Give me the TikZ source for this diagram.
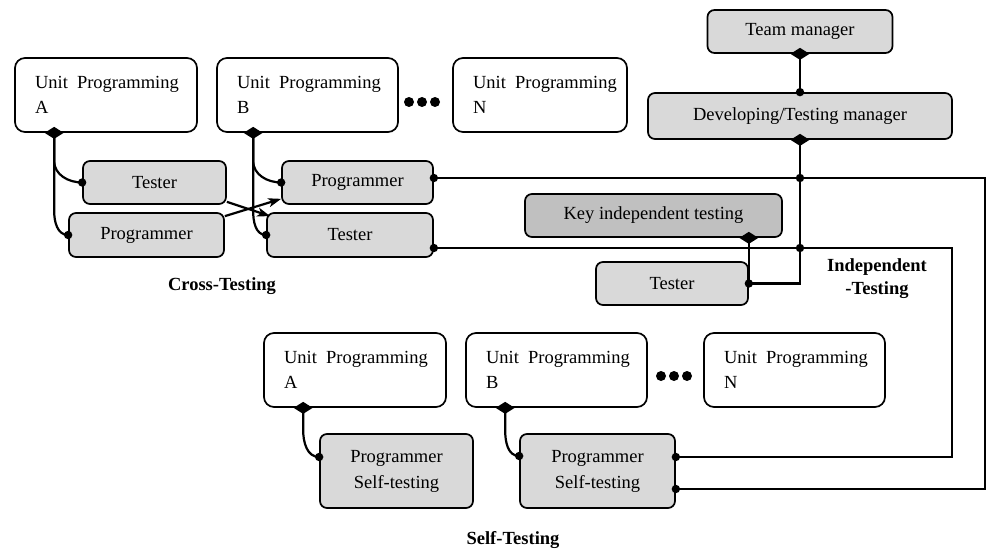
\documentclass[tikz,border=0pt]{standalone}
\usepackage{fontspec}
\setmainfont{Liberation Serif}
\usetikzlibrary{arrows.meta}
\definecolor{boxgray}{RGB}{217,217,217}
\definecolor{keygray}{RGB}{192,192,192}
\newcommand\bodyfont{\fontsize{18.5}{24.5}\selectfont}
\newcommand\uptext[1]{\hspace*{10pt}Unit\hspace{3pt} Programming\\\hspace*{10pt}#1}
\newcommand\dmd[1]{\fill #1 +(-9.5pt,0pt) -- +(0pt,6pt) -- +(9.5pt,0pt) -- +(0pt,-6pt) -- cycle;}
\newcommand\jdot[1]{\fill #1 circle (4.2pt);}
\begin{document}
\begin{tikzpicture}[x=1pt,y=-1pt,font=\bodyfont,
  unitbox/.style={draw,line width=1.7pt,rounded corners=10pt,fill=white,minimum height=74pt,inner xsep=10pt,inner ysep=0pt,align=left},
  graybox/.style={draw,line width=1.7pt,rounded corners=7pt,fill=boxgray,minimum height=43pt,inner sep=0pt},
  conn/.style={line width=2.2pt},
  lbl/.style={font=\fontsize{18.5}{23}\selectfont\bfseries,align=center}]
\fill[white] (0,0) rectangle (987,553);
\useasboundingbox (0,0) rectangle (987,553);

% unit boxes (top)
\node[unitbox,text width=162pt] (uA) at (106,95) {\uptext{A}};
\node[unitbox,text width=161pt] (uB) at (307.5,95) {\uptext{B}};
\node[unitbox,text width=154pt] (uN) at (540,95) {\uptext{N}};
% unit boxes (bottom)
\node[unitbox,text width=162pt] (sA) at (355,370) {\uptext{A}};
\node[unitbox,text width=161pt] (sB) at (556.5,370) {\uptext{B}};
\node[unitbox,text width=161pt] (sN) at (794.5,370) {\uptext{N}};

% gray boxes
\node[graybox,minimum width=185pt] (tm) at (800,31.5) {Team manager};
\node[graybox,minimum width=304pt,minimum height=46pt] (dtm) at (800,116) {Developing/Testing manager};
\node[graybox,minimum width=143pt] (tA) at (154.5,182.5) {Tester};
\node[graybox,minimum width=155pt,minimum height=44pt] (pA) at (146.5,235) {Programmer};
\node[graybox,minimum width=151pt] (pB) at (357.5,182.5) {Programmer};
\node[graybox,minimum width=166pt,minimum height=44pt] (tB) at (350,235) {Tester};
\node[graybox,fill=keygray,minimum width=257pt] (kit) at (653.5,215.5) {Key independent testing};
\node[graybox,minimum width=152pt] (ti) at (672,283.5) {Tester};
\node[graybox,minimum width=153pt,minimum height=74pt,align=center,font=\fontsize{18.5}{26}\selectfont] (psA) at (396.5,471) {Programmer\\Self-testing};
\node[graybox,minimum width=155pt,minimum height=74pt,align=center,font=\fontsize{18.5}{26}\selectfont] (psB) at (597.5,471) {Programmer\\Self-testing};

% labels
\node[lbl] (lcross) at (222,286) {Cross-Testing};
\node[lbl] (lind) at (877,279) {Independent\\-Testing};
\node[lbl] (lself) at (513,540) {Self-Testing};

% ellipses
\fill (409,102) circle (5pt) (422,102) circle (5pt) (435,102) circle (5pt);
\fill (661,376) circle (5pt) (674,376) circle (5pt) (687,376) circle (5pt);

% helper coordinates
\coordinate (dA) at ([xshift=40pt]uA.south west);
\coordinate (dB) at ([xshift=37pt]uB.south west);
\coordinate (dsA) at ([xshift=40pt]sA.south west);
\coordinate (dsB) at ([xshift=40pt]sB.south west);
\coordinate (pBo) at ([yshift=4.5pt]pB.east);
\coordinate (tBo) at ([yshift=-13pt]tB.east);
\coordinate (psBu) at ([yshift=14pt]psB.east);
\coordinate (psBl) at ([yshift=-18pt]psB.east);
\coordinate (psAi) at ([yshift=14pt]psA.west);
\coordinate (psBi) at ([yshift=15pt]psB.west);
\coordinate (xr1) at (985,0);
\coordinate (xr2) at (952,0);
\coordinate (kd) at (ti.east |- kit.south);

% cross-testing connectors
\draw[conn] (dA) -- ++(0,28) to[out=-90,in=180] (tA.west);
\draw[conn] (dA) -- ++(0,78) to[out=-90,in=180] (pA.west);
\draw[conn] (dB) -- ++(0,28) to[out=-90,in=180] (pB.west);
\draw[conn] (dB) -- ++(0,78) to[out=-90,in=180] (tB.west);
\draw[conn,-{Stealth[length=13pt,width=9pt,inset=3.5pt]}] ([yshift=3pt]tA.south east) -- ([xshift=4pt,yshift=-4pt]tB.north west);
\draw[conn,-{Stealth[length=13pt,width=9pt,inset=3.5pt]}] ([yshift=-4pt]pA.north east) -- ([yshift=6pt]pB.south west);

% long lines to self-testing
\draw[conn] (pBo) -- (pBo -| xr1) |- (psBl);
\draw[conn] (tBo) -- (tBo -| xr2) |- (psBu);

% independent testing
\draw[conn] (tm.south) -- (dtm.north);
\draw[conn] (dtm.south) -- (dtm.south |- ti.east) -- (ti.east);
\draw[conn] (kd) -- (ti.east);

% self-testing connectors
\draw[conn] (dsA) -- ++(0,22) to[out=-90,in=180] (psAi);
\draw[conn] (dsB) -- ++(0,22) to[out=-90,in=180] (psBi);

% diamonds
\dmd{(dA)} \dmd{(dB)} \dmd{(dsA)} \dmd{(dsB)}
\dmd{(tm.south)} \dmd{(dtm.south)} \dmd{(kd)}
% dots
\jdot{(tA.west)} \jdot{(pA.west)} \jdot{(pB.west)} \jdot{(tB.west)}
\jdot{(pBo)} \jdot{(tBo)} \jdot{(psBu)} \jdot{(psBl)} \jdot{(psAi)} \jdot{(psBi)}
\jdot{(dtm.north)} \jdot{(dtm.south |- pBo)} \jdot{(dtm.south |- tBo)} \jdot{(ti.east)}
\end{tikzpicture}
\end{document}
